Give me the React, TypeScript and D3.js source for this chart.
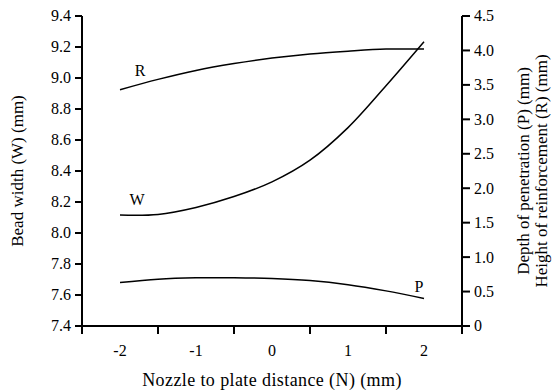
import React from "react";
import * as d3 from "d3";

const nValues = [-2, -1.5, -1, -0.5, 0, 0.5, 1, 1.5, 2];
const widthW = [8.116, 8.12, 8.165, 8.235, 8.33, 8.47, 8.68, 8.95, 9.234];
const heightR = [3.43, 3.58, 3.71, 3.81, 3.89, 3.95, 3.99, 4.02, 4.02];
const depthP = [0.63, 0.68, 0.70, 0.70, 0.69, 0.66, 0.6, 0.51, 0.40];
const xTickLabels = [-2, -1, 0, 1, 2];
const xTickMarks = [-2.5, -1.5, -0.5, 0.5, 1.5, 2.5];
const leftTicks = [7.4, 7.6, 7.8, 8.0, 8.2, 8.4, 8.6, 8.8, 9.0, 9.2, 9.4];
const rightTicks = [0, 0.5, 1, 1.5, 2, 2.5, 3, 3.5, 4, 4.5];

export default function App() {
  const W = 555, H = 391;
  const x = d3.scaleLinear().domain([-2.5, 2.5]).range([82, 462]);
  const yL = d3.scaleLinear().domain([7.4, 9.4]).range([326, 16]);
  const yR = d3.scaleLinear().domain([0, 4.5]).range([326, 16]);
  const font = "'Liberation Serif', 'Times New Roman', serif";

  const lineL = d3.line<number>().x((_, i) => x(nValues[i])).y((d) => yL(d)).curve(d3.curveCatmullRom);
  const lineR = d3.line<number>().x((_, i) => x(nValues[i])).y((d) => yR(d)).curve(d3.curveCatmullRom);

  return (
    <svg width={W} height={H} style={{ position: "absolute", left: 0, top: 0, background: "#fff" }} fontFamily={font}>
      <path d={lineR(heightR) || ""} fill="none" stroke="#000" strokeWidth={1.5} />
      <path d={lineL(widthW) || ""} fill="none" stroke="#000" strokeWidth={1.5} />
      <path d={lineR(depthP) || ""} fill="none" stroke="#000" strokeWidth={1.5} />
      <text x={140} y={76} fontSize={16} textAnchor="middle">R</text>
      <text x={137} y={205} fontSize={16} textAnchor="middle">W</text>
      <text x={419} y={292} fontSize={16} textAnchor="middle">P</text>

      <line x1={82} x2={82} y1={16} y2={326} stroke="#000" strokeWidth={2} />
      <line x1={462} x2={462} y1={16} y2={326} stroke="#000" strokeWidth={2} />
      <line x1={82} x2={462} y1={326} y2={326} stroke="#000" strokeWidth={2} />

      {leftTicks.map((t) => (
        <g key={"l" + t}>
          <line x1={75} x2={82} y1={yL(t)} y2={yL(t)} stroke="#000" strokeWidth={2} />
          <text x={71} y={yL(t)} dy="0.34em" fontSize={16} textAnchor="end">{t.toFixed(1)}</text>
        </g>
      ))}
      {rightTicks.map((t) => (
        <g key={"r" + t}>
          <line x1={462} x2={470} y1={yR(t)} y2={yR(t)} stroke="#000" strokeWidth={2} />
          <text x={474} y={yR(t)} dy="0.34em" fontSize={16} textAnchor="start">{t === 0 ? "0" : t.toFixed(1)}</text>
        </g>
      ))}
      {xTickMarks.map((t) => (
        <line key={"x" + t} x1={x(t)} x2={x(t)} y1={326} y2={334} stroke="#000" strokeWidth={2} />
      ))}
      {xTickLabels.map((t) => (
        <text key={"xl" + t} x={x(t)} y={356} fontSize={16} textAnchor="middle">{t}</text>
      ))}

      <text x={272} y={386} fontSize={18} letterSpacing={0.4} textAnchor="middle">Nozzle to plate distance (N) (mm)</text>
      <text transform="translate(23,171) rotate(-90)" fontSize={17} textAnchor="middle">Bead width (W) (mm)</text>
      <text transform="translate(529,171) rotate(-90)" fontSize={17} textAnchor="middle">Depth of penetration (P) (mm)</text>
      <text transform="translate(547,171) rotate(-90)" fontSize={17} textAnchor="middle">Height of reinforcement (R) (mm)</text>
    </svg>
  );
}
